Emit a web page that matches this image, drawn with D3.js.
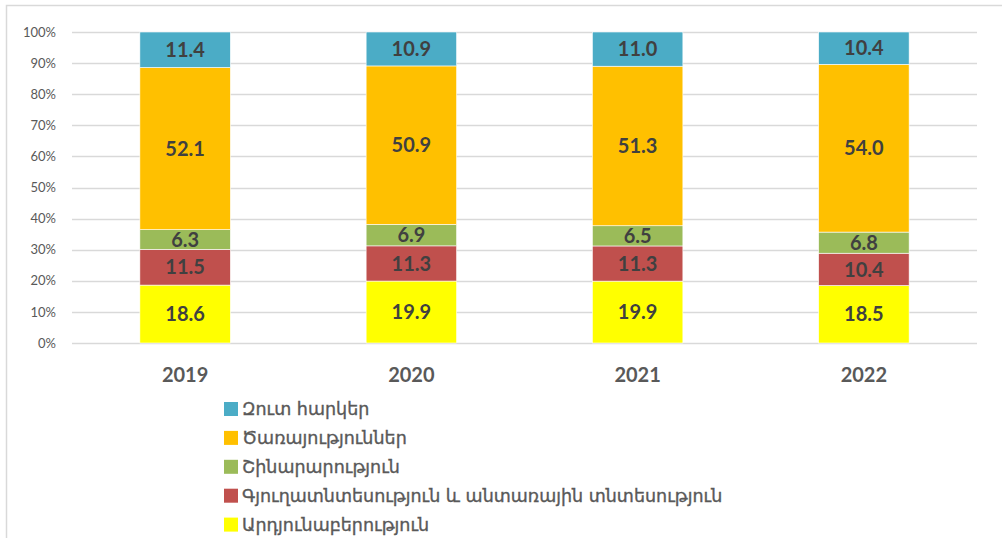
<!DOCTYPE html>
<html lang="hy">
<head>
<meta charset="utf-8">
<script src="https://d3js.org/d3.v7.min.js"></script>
<style>
  body { margin: 0; background: #fff; }
  svg { display: block; }
</style>
</head>
<body>
<svg id="chart" width="1002" height="538"></svg>
<script>
const years = ["2019", "2020", "2021", "2022"];
const seriesNames = [
  "Արդյունաբերություն",
  "Գյուղատնտեսություն և անտառային տնտեսություն",
  "Շինարարություն",
  "Ծառայություններ",
  "Զուտ հարկեր"
];
const industry     = [18.6, 19.9, 19.9, 18.5];
const agriculture  = [11.5, 11.3, 11.3, 10.4];
const construction = [6.3, 6.9, 6.5, 6.8];
const services     = [52.1, 50.9, 51.3, 54.0];
const netTaxes     = [11.4, 10.9, 11.0, 10.4];
const yTicks = [0, 0.1, 0.2, 0.3, 0.4, 0.5, 0.6, 0.7, 0.8, 0.9, 1];

const colors = ["#FFFF00", "#C0504D", "#9BBB59", "#FFC000", "#4BACC6"];
const seriesValues = [industry, agriculture, construction, services, netTaxes];

// rows for d3.stack, normalised to 100%
const rows = years.map((y, i) => {
  const r = { year: y };
  seriesNames.forEach((s, k) => r[s] = seriesValues[k][i]);
  return r;
});

const svg = d3.select("#chart");

// outer frame
svg.append("rect")
  .attr("x", 6.5).attr("y", 5.5)
  .attr("width", 1010).attr("height", 560)
  .attr("fill", "none")
  .attr("stroke", "#D9D9D9")
  .attr("stroke-width", 1.5);

const x = d3.scaleBand()
  .domain(years)
  .range([72, 977])
  .paddingInner(0.6)
  .paddingOuter(0.3);

const y = d3.scaleLinear()
  .domain([0, 1])
  .range([343, 32]);

// gridlines
svg.append("g")
  .selectAll("line")
  .data(yTicks)
  .join("line")
  .attr("x1", 72).attr("x2", 977)
  .attr("y1", d => Math.round(y(d)) + 0.5)
  .attr("y2", d => Math.round(y(d)) + 0.5)
  .attr("stroke", "#D9D9D9")
  .attr("stroke-width", 1.3);

// y axis labels
const yAxis = d3.axisLeft(y)
  .tickValues(yTicks)
  .tickFormat(d3.format(".0%"))
  .tickSize(0)
  .tickPadding(0);

svg.append("g")
  .attr("transform", "translate(56,0)")
  .call(yAxis)
  .call(g => g.select(".domain").remove())
  .selectAll("text")
  .attr("font-family", "Lato, sans-serif")
  .attr("font-size", 13)
  .attr("fill", "#595959");

const stack = d3.stack()
  .keys(seriesNames)
  .offset(d3.stackOffsetExpand);
const stacked = stack(rows);

const layers = svg.append("g")
  .selectAll("g")
  .data(stacked)
  .join("g")
  .attr("fill", (d, i) => colors[i]);

layers.selectAll("rect")
  .data(d => d)
  .join("rect")
  .attr("x", d => x(d.data.year))
  .attr("width", x.bandwidth())
  .attr("y", d => y(d[1]))
  .attr("height", d => y(d[0]) - y(d[1]))
  .attr("stroke", "#ffffff")
  .attr("stroke-width", 0.6);

// value labels
layers.selectAll("text")
  .data((d) => d.map(p => ({ p, key: d.key })))
  .join("text")
  .attr("x", d => x(d.p.data.year) + x.bandwidth() / 2)
  .attr("y", d => (y(d.p[0]) + y(d.p[1])) / 2)
  .attr("dy", "0.36em")
  .attr("text-anchor", "middle")
  .attr("font-family", "Lato, sans-serif")
  .attr("font-weight", "bold")
  .attr("font-size", 20)
  .attr("fill", "#404040")
  .text(d => d.p.data[d.key].toFixed(1));

// x axis labels
const xAxis = d3.axisBottom(x).tickSize(0).tickPadding(0);
svg.append("g")
  .attr("transform", "translate(0,368)")
  .call(xAxis)
  .call(g => g.select(".domain").remove())
  .selectAll("text")
  .attr("dy", "0.71em")
  .attr("font-family", "Lato, sans-serif")
  .attr("font-weight", "bold")
  .attr("font-size", 20)
  .attr("fill", "#595959");

// legend (top to bottom in reverse stack order)
const legendOrder = d3.range(seriesNames.length).reverse();
const legend = svg.append("g")
  .selectAll("g")
  .data(legendOrder)
  .join("g")
  .attr("transform", (d, i) => `translate(224,${409 + i * 28.9})`);

legend.append("rect")
  .attr("x", 0).attr("y", -7)
  .attr("width", 14).attr("height", 14)
  .attr("fill", d => colors[d]);

legend.append("text")
  .attr("x", 18)
  .attr("dy", "0.36em")
  .attr("font-family", "DejaVu Sans, sans-serif")
  .attr("font-size", 17.5)
  .attr("fill", "#595959")
  .attr("stroke", "#595959")
  .attr("stroke-width", 0.35)
  .text(d => seriesNames[d]);
</script>
</body>
</html>
